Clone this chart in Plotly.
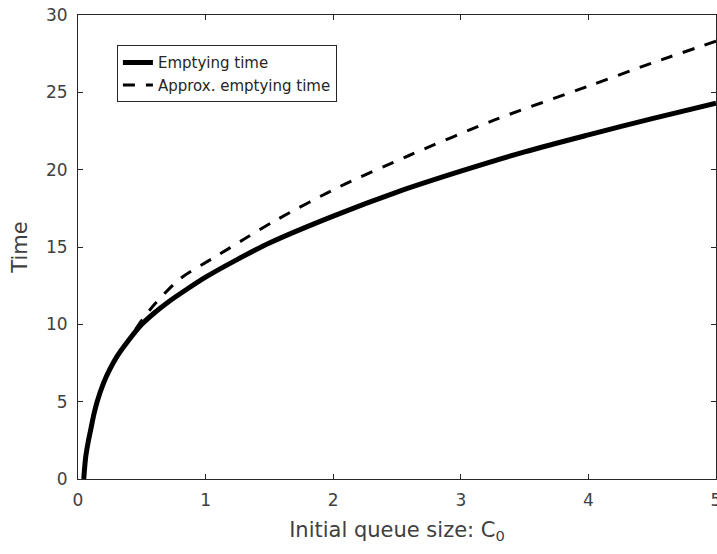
import plotly.graph_objects as go

# Emptying time (solid)
c0_exact = [0.045, 0.06, 0.08, 0.1, 0.125, 0.15, 0.2, 0.25, 0.3, 0.4, 0.5, 0.6, 0.7, 0.85, 1.0, 1.25, 1.5, 2.0, 2.5, 3.0, 3.5, 4.0, 4.5, 5.0]
t_exact = [0.0, 1.4, 2.4, 3.2, 4.2, 5.0, 6.2, 7.1, 7.85, 9.0, 10.0, 10.75, 11.4, 12.25, 13.05, 14.2, 15.26, 17.0, 18.55, 19.9, 21.15, 22.25, 23.3, 24.3]

# Approx. emptying time (dashed)
c0_approx = [0.045, 0.06, 0.08, 0.1, 0.125, 0.15, 0.2, 0.25, 0.3, 0.4, 0.5, 0.6, 0.8, 1.087, 1.3, 1.544, 2.05, 2.59, 3.26, 4.0, 4.5, 5.0]
t_approx = [0.0, 1.4, 2.4, 3.2, 4.2, 5.0, 6.2, 7.1, 7.85, 9.05, 10.25, 11.3, 12.95, 14.42, 15.5, 16.7, 18.9, 20.9, 23.2, 25.4, 26.9, 28.3]

x_ticks = [0, 1, 2, 3, 4, 5]
y_ticks = [0, 5, 10, 15, 20, 25, 30]

fig = go.Figure()
fig.add_trace(go.Scatter(x=c0_exact, y=t_exact, mode="lines", name="Emptying time",
                         line=dict(color="black", width=5, shape="spline", smoothing=0.8)))
fig.add_trace(go.Scatter(x=c0_approx, y=t_approx, mode="lines", name="Approx. emptying time",
                         line=dict(color="black", width=3, dash="12px,11px", shape="spline", smoothing=0.8)))

axis_common = dict(showgrid=False, zeroline=False, showline=True, linecolor="#262626", linewidth=1,
                   mirror="ticks", ticks="inside", ticklen=5, tickcolor="#262626",
                   ticklabeloverflow="allow", ticklabelstandoff=6, automargin=False,
                   tickfont=dict(family="DejaVu Sans", size=17, color="#404040"))

fig.update_xaxes(range=[0, 5], tickvals=x_ticks, ticktext=[str(v) for v in x_ticks],
                 title=dict(text="Initial queue size: C<sub>0</sub>", standoff=12,
                            font=dict(family="DejaVu Sans", size=21, color="#404040")),
                 **axis_common)
fig.update_yaxes(range=[0, 30], tickvals=y_ticks, ticktext=[str(v) for v in y_ticks],
                 title=dict(text="Time", standoff=12,
                            font=dict(family="DejaVu Sans", size=21, color="#404040")),
                 **axis_common)

fig.update_layout(
    width=717, height=554,
    margin=dict(l=78, r=1, t=15, b=75),
    plot_bgcolor="white", paper_bgcolor="white",
    showlegend=True,
    legend=dict(x=0.061, y=0.935, xanchor="left", yanchor="top",
                bgcolor="white", bordercolor="#262626", borderwidth=1,
                font=dict(family="DejaVu Sans", size=15, color="#262626"),
                tracegroupgap=0, itemwidth=30),
)

fig.write_html("out.html")
